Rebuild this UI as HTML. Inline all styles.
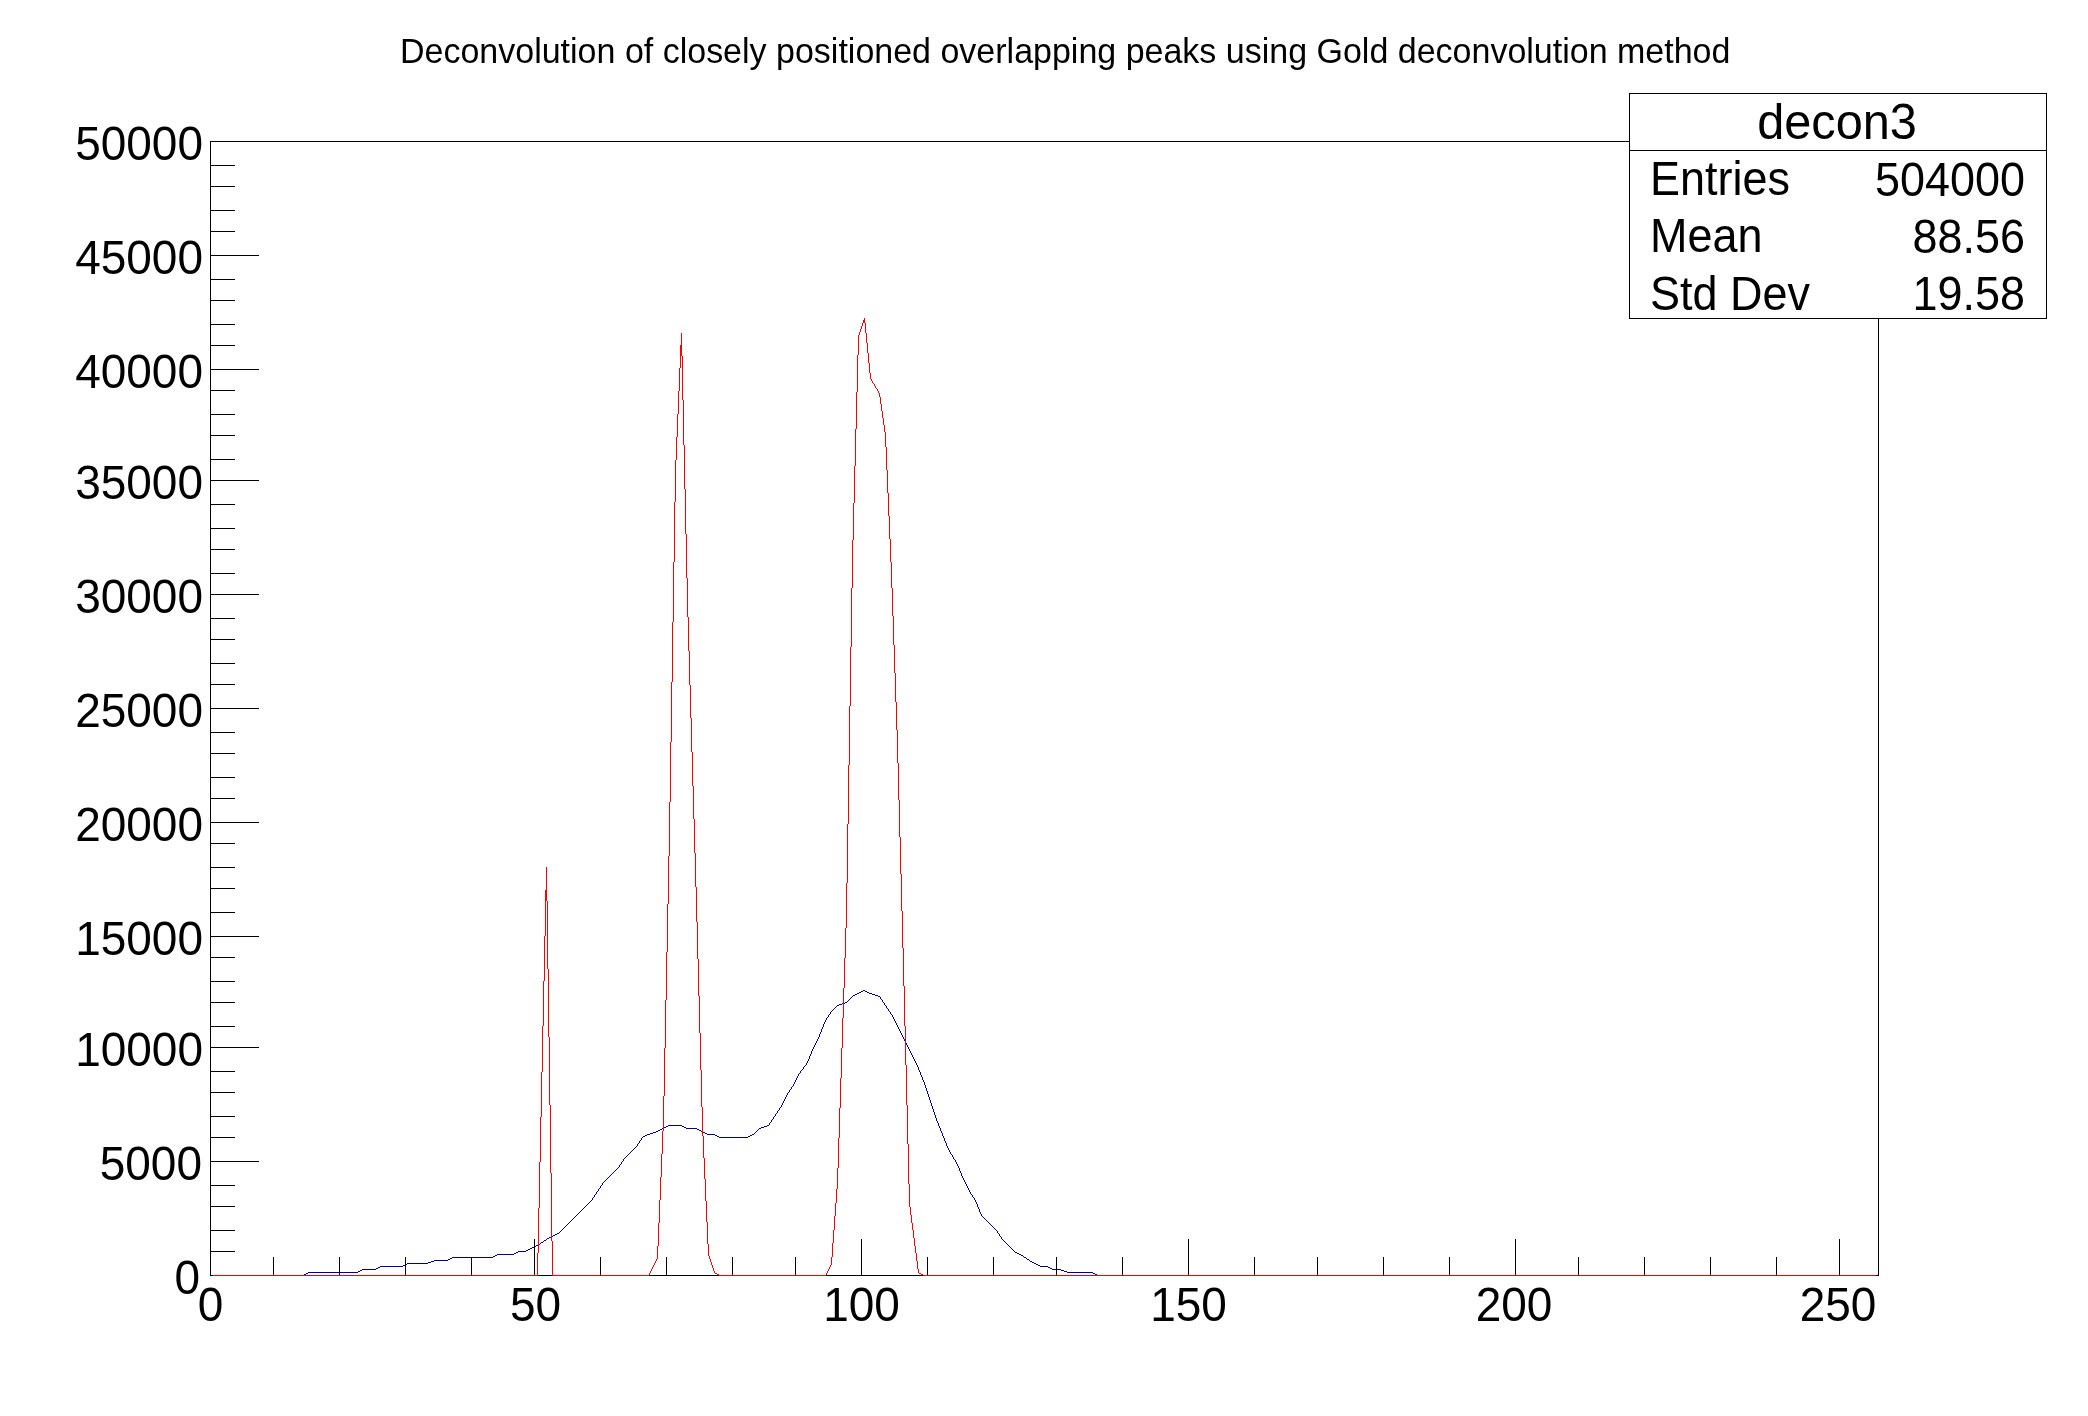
<!DOCTYPE html>
<html><head><meta charset="utf-8"><title>Deconvolution</title>
<style>html,body{margin:0;padding:0;background:#fff;overflow:hidden}svg{display:block}text{font-family:"Liberation Sans",Arial,Helvetica,sans-serif;fill:#000}</style>
</head><body>
<svg width="2088" height="1416" viewBox="0 0 2088 1416">
<rect x="0" y="0" width="2088" height="1416" fill="#fff"/>
<g shape-rendering="crispEdges">
<rect x="210" y="141" width="1669" height="1" fill="#000"/>
<rect x="210" y="1275" width="1669" height="1" fill="#000"/>
<rect x="210" y="141" width="1" height="1135" fill="#000"/>
<rect x="1878" y="141" width="1" height="1135" fill="#000"/>
<path d="M213 1275h91v1h-91zM304 1274h2v1h-2zM306 1273h2v1h-2zM308 1272h50v1h-50zM358 1271h2v1h-2zM360 1270h2v1h-2zM362 1269h14v1h-14zM376 1268h2v1h-2zM378 1267h2v1h-2zM380 1266h23v1h-23zM403 1265h2v1h-2zM405 1264h2v1h-2zM407 1263h21v1h-21zM428 1262h3v1h-3zM431 1261h3v1h-3zM434 1260h14v1h-14zM448 1259h2v1h-2zM450 1258h2v1h-2zM452 1257h41v1h-41zM493 1256h2v1h-2zM495 1255h2v1h-2zM497 1254h17v1h-17zM514 1253h2v1h-2zM516 1252h2v1h-2zM518 1251h8v1h-8zM526 1250h2v1h-2zM528 1249h2v1h-2zM530 1248h2v1h-2zM532 1247h2v1h-2zM534 1246h2v1h-2zM536 1245h2v1h-2zM538 1244h2v1h-2zM540 1243h1v1h-1zM541 1242h2v1h-2zM543 1241h1v1h-1zM544 1240h2v1h-2zM546 1239h1v1h-1zM547 1238h2v1h-2zM549 1237h2v1h-2zM551 1236h2v1h-2zM553 1235h2v1h-2zM555 1234h2v1h-2zM557 1233h2v1h-2zM559 1232h1v1h-1zM560 1231h1v1h-1zM561 1230h1v1h-1zM562 1229h1v1h-1zM563 1228h1v1h-1zM564 1227h1v1h-1zM565 1226h1v1h-1zM566 1225h1v1h-1zM567 1224h1v1h-1zM568 1223h1v1h-1zM569 1222h1v1h-1zM570 1221h1v1h-1zM571 1220h1v1h-1zM572 1219h1v1h-1zM573 1218h1v1h-1zM574 1217h1v1h-1zM575 1216h1v1h-1zM576 1215h1v1h-1zM577 1214h1v1h-1zM578 1213h1v1h-1zM579 1212h1v1h-1zM580 1211h1v1h-1zM581 1210h1v1h-1zM582 1209h1v1h-1zM583 1208h1v1h-1zM584 1207h1v1h-1zM585 1206h1v1h-1zM586 1205h1v1h-1zM587 1204h1v1h-1zM588 1203h1v1h-1zM589 1202h1v1h-1zM590 1201h1v1h-1zM591 1200h1v1h-1zM592 1198h1v2h-1zM593 1197h1v1h-1zM594 1195h1v2h-1zM595 1194h1v1h-1zM596 1192h1v2h-1zM597 1191h1v1h-1zM598 1189h1v2h-1zM599 1188h1v1h-1zM600 1186h1v2h-1zM601 1185h1v1h-1zM602 1183h1v2h-1zM603 1182h1v1h-1zM604 1181h1v1h-1zM605 1180h1v1h-1zM606 1179h1v1h-1zM607 1178h1v1h-1zM608 1177h1v1h-1zM609 1176h1v1h-1zM610 1175h1v1h-1zM611 1174h1v1h-1zM612 1173h1v1h-1zM613 1172h1v1h-1zM614 1171h1v1h-1zM615 1170h1v1h-1zM616 1169h1v1h-1zM617 1168h1v1h-1zM618 1167h1v1h-1zM619 1165h1v2h-1zM620 1164h1v1h-1zM621 1162h1v2h-1zM622 1161h1v1h-1zM623 1159h1v2h-1zM624 1158h1v1h-1zM625 1157h1v1h-1zM626 1156h1v1h-1zM627 1155h1v1h-1zM628 1154h1v1h-1zM629 1153h1v1h-1zM630 1152h1v1h-1zM631 1151h1v1h-1zM632 1150h1v1h-1zM633 1149h1v1h-1zM634 1148h1v1h-1zM635 1147h1v1h-1zM636 1146h1v1h-1zM637 1144h1v2h-1zM638 1143h1v1h-1zM639 1141h1v2h-1zM640 1140h1v1h-1zM641 1138h1v2h-1zM642 1137h1v1h-1zM643 1136h2v1h-2zM645 1135h2v1h-2zM647 1134h3v1h-3zM650 1133h3v1h-3zM653 1132h3v1h-3zM656 1131h2v1h-2zM658 1130h2v1h-2zM660 1129h2v1h-2zM662 1128h2v1h-2zM664 1127h2v1h-2zM666 1126h2v1h-2zM668 1125h14v1h-14zM682 1126h2v1h-2zM684 1127h2v1h-2zM686 1128h11v1h-11zM697 1129h2v1h-2zM699 1130h2v1h-2zM701 1131h2v1h-2zM703 1132h2v1h-2zM705 1133h2v1h-2zM707 1134h8v1h-8zM715 1135h2v1h-2zM717 1136h2v1h-2zM719 1137h29v1h-29zM748 1136h2v1h-2zM750 1135h2v1h-2zM752 1134h2v1h-2zM754 1133h1v1h-1zM755 1132h1v1h-1zM756 1131h1v1h-1zM757 1130h1v1h-1zM758 1129h1v1h-1zM759 1128h2v1h-2zM761 1127h3v1h-3zM764 1126h3v1h-3zM767 1125h2v1h-2zM769 1123h1v2h-1zM770 1122h1v1h-1zM771 1120h1v2h-1zM772 1119h1v1h-1zM773 1117h1v2h-1zM774 1116h1v1h-1zM775 1114h1v2h-1zM776 1113h1v1h-1zM777 1111h1v2h-1zM778 1110h1v1h-1zM779 1108h1v2h-1zM780 1107h1v1h-1zM781 1105h1v2h-1zM782 1103h1v2h-1zM783 1101h1v2h-1zM784 1099h1v2h-1zM785 1097h1v2h-1zM786 1095h1v2h-1zM786 1095h1v1h-1zM787 1093h1v2h-1zM788 1092h1v1h-1zM789 1090h1v2h-1zM790 1089h1v1h-1zM791 1087h1v2h-1zM792 1086h1v1h-1zM793 1084h1v2h-1zM794 1082h1v2h-1zM795 1080h1v2h-1zM796 1078h1v2h-1zM797 1076h1v2h-1zM798 1074h1v2h-1zM798 1074h1v1h-1zM799 1073h1v1h-1zM800 1071h1v2h-1zM801 1070h1v1h-1zM802 1069h1v1h-1zM803 1067h1v2h-1zM804 1066h1v1h-1zM805 1065h1v1h-1zM806 1063h1v2h-1zM807 1062h1v1h-1zM807 1061h1v2h-1zM808 1059h1v2h-1zM809 1056h1v3h-1zM810 1054h1v2h-1zM811 1051h1v3h-1zM812 1049h1v2h-1zM813 1047h1v2h-1zM813 1047h1v1h-1zM814 1045h1v2h-1zM815 1043h1v2h-1zM816 1041h1v2h-1zM817 1039h1v2h-1zM818 1037h1v2h-1zM819 1035h1v2h-1zM819 1034h1v2h-1zM820 1032h1v2h-1zM821 1029h1v3h-1zM822 1027h1v2h-1zM823 1024h1v3h-1zM824 1022h1v2h-1zM825 1020h1v2h-1zM825 1020h1v1h-1zM826 1018h1v2h-1zM827 1017h1v1h-1zM828 1015h1v2h-1zM829 1014h1v1h-1zM830 1012h1v2h-1zM831 1011h1v1h-1zM832 1010h1v1h-1zM833 1009h1v1h-1zM834 1008h1v1h-1zM835 1007h1v1h-1zM836 1006h1v1h-1zM837 1005h2v1h-2zM839 1004h3v1h-3zM842 1003h3v1h-3zM845 1002h2v1h-2zM847 1001h1v1h-1zM848 1000h1v1h-1zM849 999h1v1h-1zM850 998h1v1h-1zM851 997h1v1h-1zM852 996h1v1h-1zM853 995h2v1h-2zM855 994h2v1h-2zM857 993h2v1h-2zM859 992h2v1h-2zM861 991h2v1h-2zM863 990h2v1h-2zM865 991h2v1h-2zM867 992h2v1h-2zM869 993h3v1h-3zM872 994h3v1h-3zM875 995h3v1h-3zM878 996h2v1h-2zM880 997h1v2h-1zM881 999h1v1h-1zM882 1000h1v2h-1zM883 1002h1v1h-1zM884 1003h1v2h-1zM885 1005h1v1h-1zM886 1006h1v2h-1zM887 1008h1v1h-1zM888 1009h1v2h-1zM889 1011h1v1h-1zM890 1012h1v2h-1zM891 1014h1v1h-1zM892 1015h1v2h-1zM893 1017h1v2h-1zM894 1019h1v2h-1zM895 1021h1v2h-1zM896 1023h1v2h-1zM897 1025h1v2h-1zM897 1026h1v1h-1zM898 1027h1v2h-1zM899 1029h1v2h-1zM900 1031h1v2h-1zM901 1033h1v2h-1zM902 1035h1v2h-1zM903 1037h1v2h-1zM903 1038h1v1h-1zM904 1039h1v2h-1zM905 1041h1v2h-1zM906 1043h1v2h-1zM907 1045h1v2h-1zM908 1047h1v2h-1zM909 1049h1v2h-1zM909 1050h1v1h-1zM910 1051h1v2h-1zM911 1053h1v2h-1zM912 1055h1v2h-1zM913 1057h1v2h-1zM914 1059h1v2h-1zM915 1061h1v2h-1zM916 1063h1v2h-1zM917 1065h1v2h-1zM918 1067h1v2h-1zM918 1068h1v2h-1zM919 1070h1v2h-1zM920 1072h1v3h-1zM921 1075h1v2h-1zM922 1077h1v3h-1zM923 1080h1v2h-1zM924 1082h1v2h-1zM924 1083h1v2h-1zM925 1085h1v3h-1zM926 1088h1v3h-1zM927 1091h1v3h-1zM928 1094h1v3h-1zM929 1097h1v3h-1zM930 1100h1v2h-1zM930 1101h1v2h-1zM931 1103h1v3h-1zM932 1106h1v3h-1zM933 1109h1v3h-1zM934 1112h1v3h-1zM935 1115h1v3h-1zM936 1118h1v2h-1zM936 1119h1v2h-1zM937 1121h1v2h-1zM938 1123h1v3h-1zM939 1126h1v2h-1zM940 1128h1v3h-1zM941 1131h1v2h-1zM942 1133h1v2h-1zM942 1134h1v2h-1zM943 1136h1v2h-1zM944 1138h1v3h-1zM945 1141h1v2h-1zM946 1143h1v3h-1zM947 1146h1v2h-1zM948 1148h1v2h-1zM948 1149h1v1h-1zM949 1150h1v2h-1zM950 1152h1v2h-1zM951 1154h1v1h-1zM952 1155h1v2h-1zM953 1157h1v2h-1zM954 1159h1v1h-1zM955 1160h1v2h-1zM956 1162h1v2h-1zM957 1164h1v1h-1zM957 1164h1v2h-1zM958 1166h1v2h-1zM959 1168h1v3h-1zM960 1171h1v2h-1zM961 1173h1v3h-1zM962 1176h1v2h-1zM963 1178h1v2h-1zM963 1179h1v1h-1zM964 1180h1v2h-1zM965 1182h1v2h-1zM966 1184h1v2h-1zM967 1186h1v2h-1zM968 1188h1v2h-1zM969 1190h1v2h-1zM969 1191h1v1h-1zM970 1192h1v2h-1zM971 1194h1v1h-1zM972 1195h1v2h-1zM973 1197h1v1h-1zM974 1198h1v2h-1zM975 1200h1v1h-1zM975 1200h1v2h-1zM976 1202h1v2h-1zM977 1204h1v3h-1zM978 1207h1v2h-1zM979 1209h1v3h-1zM980 1212h1v2h-1zM981 1214h1v2h-1zM981 1215h1v1h-1zM982 1216h1v1h-1zM983 1217h1v1h-1zM984 1218h1v1h-1zM985 1219h1v1h-1zM986 1220h1v1h-1zM987 1221h1v1h-1zM988 1222h1v1h-1zM989 1223h1v1h-1zM990 1224h1v1h-1zM991 1225h1v1h-1zM992 1226h1v1h-1zM993 1227h1v1h-1zM994 1228h1v1h-1zM995 1229h1v1h-1zM996 1230h1v1h-1zM997 1231h1v2h-1zM998 1233h1v1h-1zM999 1234h1v2h-1zM1000 1236h1v1h-1zM1001 1237h1v2h-1zM1002 1239h1v1h-1zM1003 1240h1v1h-1zM1004 1241h1v1h-1zM1005 1242h1v1h-1zM1006 1243h1v1h-1zM1007 1244h1v1h-1zM1008 1245h1v1h-1zM1009 1246h1v1h-1zM1010 1247h1v1h-1zM1011 1248h1v1h-1zM1012 1249h1v1h-1zM1013 1250h1v1h-1zM1014 1251h1v1h-1zM1015 1252h2v1h-2zM1017 1253h2v1h-2zM1019 1254h2v1h-2zM1021 1255h2v1h-2zM1023 1256h1v1h-1zM1024 1257h2v1h-2zM1026 1258h1v1h-1zM1027 1259h2v1h-2zM1029 1260h1v1h-1zM1030 1261h2v1h-2zM1032 1262h2v1h-2zM1034 1263h2v1h-2zM1036 1264h2v1h-2zM1038 1265h2v1h-2zM1040 1266h8v1h-8zM1048 1267h2v1h-2zM1050 1268h2v1h-2zM1052 1269h9v1h-9zM1061 1270h3v1h-3zM1064 1271h3v1h-3zM1067 1272h26v1h-26zM1093 1273h2v1h-2zM1095 1274h2v1h-2zM1097 1275h779v1h-779z" fill="#000099"/>
<rect x="210" y="1239" width="1" height="37" fill="#000"/>
<rect x="273" y="1257" width="1" height="19" fill="#000"/>
<rect x="339" y="1257" width="1" height="19" fill="#000"/>
<rect x="405" y="1257" width="1" height="19" fill="#000"/>
<rect x="471" y="1257" width="1" height="19" fill="#000"/>
<rect x="534" y="1239" width="1" height="37" fill="#000"/>
<rect x="600" y="1257" width="1" height="19" fill="#000"/>
<rect x="666" y="1257" width="1" height="19" fill="#000"/>
<rect x="732" y="1257" width="1" height="19" fill="#000"/>
<rect x="795" y="1257" width="1" height="19" fill="#000"/>
<rect x="861" y="1239" width="1" height="37" fill="#000"/>
<rect x="927" y="1257" width="1" height="19" fill="#000"/>
<rect x="993" y="1257" width="1" height="19" fill="#000"/>
<rect x="1056" y="1257" width="1" height="19" fill="#000"/>
<rect x="1122" y="1257" width="1" height="19" fill="#000"/>
<rect x="1188" y="1239" width="1" height="37" fill="#000"/>
<rect x="1254" y="1257" width="1" height="19" fill="#000"/>
<rect x="1317" y="1257" width="1" height="19" fill="#000"/>
<rect x="1383" y="1257" width="1" height="19" fill="#000"/>
<rect x="1449" y="1257" width="1" height="19" fill="#000"/>
<rect x="1515" y="1239" width="1" height="37" fill="#000"/>
<rect x="1578" y="1257" width="1" height="19" fill="#000"/>
<rect x="1644" y="1257" width="1" height="19" fill="#000"/>
<rect x="1710" y="1257" width="1" height="19" fill="#000"/>
<rect x="1776" y="1257" width="1" height="19" fill="#000"/>
<rect x="1839" y="1239" width="1" height="37" fill="#000"/>
<rect x="210" y="1275" width="49" height="1" fill="#000"/>
<rect x="210" y="1251" width="25" height="1" fill="#000"/>
<rect x="210" y="1230" width="25" height="1" fill="#000"/>
<rect x="210" y="1206" width="25" height="1" fill="#000"/>
<rect x="210" y="1185" width="25" height="1" fill="#000"/>
<rect x="210" y="1161" width="49" height="1" fill="#000"/>
<rect x="210" y="1137" width="25" height="1" fill="#000"/>
<rect x="210" y="1116" width="25" height="1" fill="#000"/>
<rect x="210" y="1092" width="25" height="1" fill="#000"/>
<rect x="210" y="1071" width="25" height="1" fill="#000"/>
<rect x="210" y="1047" width="49" height="1" fill="#000"/>
<rect x="210" y="1026" width="25" height="1" fill="#000"/>
<rect x="210" y="1002" width="25" height="1" fill="#000"/>
<rect x="210" y="981" width="25" height="1" fill="#000"/>
<rect x="210" y="957" width="25" height="1" fill="#000"/>
<rect x="210" y="936" width="49" height="1" fill="#000"/>
<rect x="210" y="912" width="25" height="1" fill="#000"/>
<rect x="210" y="888" width="25" height="1" fill="#000"/>
<rect x="210" y="867" width="25" height="1" fill="#000"/>
<rect x="210" y="843" width="25" height="1" fill="#000"/>
<rect x="210" y="822" width="49" height="1" fill="#000"/>
<rect x="210" y="798" width="25" height="1" fill="#000"/>
<rect x="210" y="777" width="25" height="1" fill="#000"/>
<rect x="210" y="753" width="25" height="1" fill="#000"/>
<rect x="210" y="732" width="25" height="1" fill="#000"/>
<rect x="210" y="708" width="49" height="1" fill="#000"/>
<rect x="210" y="684" width="25" height="1" fill="#000"/>
<rect x="210" y="663" width="25" height="1" fill="#000"/>
<rect x="210" y="639" width="25" height="1" fill="#000"/>
<rect x="210" y="618" width="25" height="1" fill="#000"/>
<rect x="210" y="594" width="49" height="1" fill="#000"/>
<rect x="210" y="573" width="25" height="1" fill="#000"/>
<rect x="210" y="549" width="25" height="1" fill="#000"/>
<rect x="210" y="528" width="25" height="1" fill="#000"/>
<rect x="210" y="504" width="25" height="1" fill="#000"/>
<rect x="210" y="480" width="49" height="1" fill="#000"/>
<rect x="210" y="459" width="25" height="1" fill="#000"/>
<rect x="210" y="435" width="25" height="1" fill="#000"/>
<rect x="210" y="414" width="25" height="1" fill="#000"/>
<rect x="210" y="390" width="25" height="1" fill="#000"/>
<rect x="210" y="369" width="49" height="1" fill="#000"/>
<rect x="210" y="345" width="25" height="1" fill="#000"/>
<rect x="210" y="324" width="25" height="1" fill="#000"/>
<rect x="210" y="300" width="25" height="1" fill="#000"/>
<rect x="210" y="279" width="25" height="1" fill="#000"/>
<rect x="210" y="255" width="49" height="1" fill="#000"/>
<rect x="210" y="231" width="25" height="1" fill="#000"/>
<rect x="210" y="210" width="25" height="1" fill="#000"/>
<rect x="210" y="186" width="25" height="1" fill="#000"/>
<rect x="210" y="165" width="25" height="1" fill="#000"/>
<rect x="210" y="141" width="49" height="1" fill="#000"/>
<path d="M213 1275h325v1h-325zM537 1253h1v23h-1zM538 1208h1v45h-1zM539 1162h1v46h-1zM540 1117h1v45h-1zM541 1072h1v45h-1zM542 1026h1v46h-1zM543 981h1v45h-1zM544 936h1v45h-1zM545 890h1v46h-1zM546 867h1v23h-1zM546 867h1v34h-1zM547 901h1v68h-1zM548 969h1v68h-1zM549 1037h1v68h-1zM550 1105h1v68h-1zM551 1173h1v68h-1zM552 1241h1v35h-1zM552 1275h97v1h-97zM649 1273h1v2h-1zM650 1271h1v2h-1zM651 1269h1v2h-1zM652 1267h1v2h-1zM653 1265h1v2h-1zM654 1263h1v2h-1zM655 1261h1v2h-1zM656 1259h1v2h-1zM657 1257h1v2h-1zM657 1246h1v12h-1zM658 1223h1v23h-1zM659 1200h1v23h-1zM660 1177h1v23h-1zM661 1154h1v23h-1zM662 1131h1v23h-1zM663 1119h1v12h-1zM663 1096h1v24h-1zM664 1048h1v48h-1zM665 1000h1v48h-1zM666 952h1v48h-1zM667 904h1v48h-1zM668 856h1v48h-1zM669 831h1v25h-1zM669 802h1v30h-1zM670 742h1v60h-1zM671 682h1v60h-1zM672 622h1v60h-1zM673 562h1v60h-1zM674 502h1v60h-1zM675 471h1v31h-1zM675 460h1v12h-1zM676 437h1v23h-1zM677 414h1v23h-1zM678 391h1v23h-1zM679 368h1v23h-1zM680 345h1v23h-1zM681 333h1v12h-1zM681 333h1v23h-1zM682 356h1v44h-1zM683 400h1v45h-1zM684 445h1v44h-1zM685 489h1v45h-1zM686 534h1v44h-1zM687 578h1v23h-1zM687 600h1v17h-1zM688 617h1v34h-1zM689 651h1v34h-1zM690 685h1v33h-1zM691 718h1v34h-1zM692 752h1v34h-1zM693 786h1v33h-1zM694 819h1v34h-1zM695 853h1v34h-1zM696 887h1v17h-1zM696 903h1v19h-1zM697 922h1v37h-1zM698 959h1v37h-1zM699 996h1v37h-1zM700 1033h1v37h-1zM701 1070h1v37h-1zM702 1107h1v19h-1zM702 1125h1v11h-1zM703 1136h1v22h-1zM704 1158h1v21h-1zM705 1179h1v22h-1zM706 1201h1v21h-1zM707 1222h1v22h-1zM708 1244h1v11h-1zM708 1254h1v2h-1zM709 1256h1v3h-1zM710 1259h1v3h-1zM711 1262h1v3h-1zM712 1265h1v3h-1zM713 1268h1v3h-1zM714 1271h1v2h-1zM714 1272h1v1h-1zM715 1273h2v1h-2zM717 1274h2v1h-2zM719 1275h107v1h-107zM826 1273h1v2h-1zM827 1271h1v2h-1zM828 1269h1v2h-1zM829 1267h1v2h-1zM830 1265h1v2h-1zM831 1263h1v2h-1zM831 1257h1v7h-1zM832 1243h1v14h-1zM833 1230h1v13h-1zM834 1216h1v14h-1zM835 1203h1v13h-1zM836 1189h1v14h-1zM837 1182h1v7h-1zM837 1168h1v15h-1zM838 1138h1v30h-1zM839 1108h1v30h-1zM840 1078h1v30h-1zM841 1048h1v30h-1zM842 1018h1v30h-1zM843 988h1v30h-1zM844 958h1v30h-1zM845 928h1v30h-1zM846 912h1v16h-1zM846 883h1v30h-1zM847 824h1v59h-1zM848 765h1v59h-1zM849 706h1v59h-1zM850 647h1v59h-1zM851 588h1v59h-1zM852 558h1v30h-1zM852 540h1v19h-1zM853 503h1v37h-1zM854 466h1v37h-1zM855 429h1v37h-1zM856 392h1v37h-1zM857 355h1v37h-1zM858 336h1v19h-1zM858 335h1v2h-1zM859 332h1v3h-1zM860 329h1v3h-1zM861 326h1v3h-1zM862 323h1v3h-1zM863 320h1v3h-1zM864 318h1v2h-1zM864 318h1v5h-1zM865 323h1v10h-1zM866 333h1v10h-1zM867 343h1v10h-1zM868 353h1v10h-1zM869 363h1v10h-1zM870 373h1v6h-1zM870 378h1v1h-1zM871 379h1v2h-1zM872 381h1v2h-1zM873 383h1v1h-1zM874 384h1v2h-1zM875 386h1v2h-1zM876 388h1v1h-1zM877 389h1v2h-1zM878 391h1v2h-1zM879 393h1v1h-1zM879 393h1v4h-1zM880 397h1v7h-1zM881 404h1v7h-1zM882 411h1v7h-1zM883 418h1v7h-1zM884 425h1v7h-1zM885 432h1v4h-1zM885 435h1v12h-1zM886 447h1v23h-1zM887 470h1v23h-1zM888 493h1v23h-1zM889 516h1v23h-1zM890 539h1v23h-1zM891 562h1v12h-1zM891 573h1v15h-1zM892 588h1v28h-1zM893 616h1v29h-1zM894 645h1v28h-1zM895 673h1v29h-1zM896 702h1v28h-1zM897 730h1v15h-1zM897 744h1v19h-1zM898 763h1v37h-1zM899 800h1v37h-1zM900 837h1v37h-1zM901 874h1v37h-1zM902 911h1v37h-1zM903 948h1v19h-1zM903 966h1v20h-1zM904 986h1v40h-1zM905 1026h1v39h-1zM906 1065h1v40h-1zM907 1105h1v39h-1zM908 1144h1v40h-1zM909 1184h1v20h-1zM909 1203h1v4h-1zM910 1207h1v8h-1zM911 1215h1v8h-1zM912 1223h1v7h-1zM913 1230h1v8h-1zM914 1238h1v8h-1zM915 1246h1v7h-1zM916 1253h1v8h-1zM917 1261h1v8h-1zM918 1269h1v4h-1zM918 1272h1v1h-1zM919 1273h2v1h-2zM921 1274h2v1h-2zM923 1275h953v1h-953z" fill="#ff0000"/>
<rect x="1629.5" y="93.5" width="417" height="225" fill="#fff" stroke="#000" stroke-width="1"/>
<rect x="1629" y="150" width="418" height="1" fill="#000"/>
</g>
<g style="filter:grayscale(1)">
<text transform="translate(400 63) scale(1 1.035)" font-size="34">Deconvolution of closely positioned overlapping peaks using Gold deconvolution method</text>
<text transform="translate(200 1294) scale(1 1.055)" font-size="46" text-anchor="end">0</text>
<text transform="translate(202 1180) scale(1 1.055)" font-size="46" text-anchor="end">5000</text>
<text transform="translate(203 1066) scale(1 1.055)" font-size="46" text-anchor="end">10000</text>
<text transform="translate(203 955) scale(1 1.055)" font-size="46" text-anchor="end">15000</text>
<text transform="translate(203 841) scale(1 1.055)" font-size="46" text-anchor="end">20000</text>
<text transform="translate(203 727) scale(1 1.055)" font-size="46" text-anchor="end">25000</text>
<text transform="translate(203 613) scale(1 1.055)" font-size="46" text-anchor="end">30000</text>
<text transform="translate(203 499) scale(1 1.055)" font-size="46" text-anchor="end">35000</text>
<text transform="translate(203 388) scale(1 1.055)" font-size="46" text-anchor="end">40000</text>
<text transform="translate(203 274) scale(1 1.055)" font-size="46" text-anchor="end">45000</text>
<text transform="translate(203 160) scale(1 1.055)" font-size="46" text-anchor="end">50000</text>
<text transform="translate(210.5 1321) scale(1 1.055)" font-size="46" text-anchor="middle">0</text>
<text transform="translate(535.5 1321) scale(1 1.055)" font-size="46" text-anchor="middle">50</text>
<text transform="translate(861.5 1321) scale(1 1.055)" font-size="46" text-anchor="middle">100</text>
<text transform="translate(1188.5 1321) scale(1 1.055)" font-size="46" text-anchor="middle">150</text>
<text transform="translate(1514.0 1321) scale(1 1.055)" font-size="46" text-anchor="middle">200</text>
<text transform="translate(1838.0 1321) scale(1 1.055)" font-size="46" text-anchor="middle">250</text>
<text transform="translate(1837 139) scale(1 1.04)" font-size="48.7" text-anchor="middle">decon3</text>
<text transform="translate(1650 195) scale(1 1.065)" font-size="45">Entries</text>
<text transform="translate(2025 196) scale(1 1.065)" font-size="45" text-anchor="end">504000</text>
<text transform="translate(1650 252) scale(1 1.065)" font-size="45">Mean</text>
<text transform="translate(2025 253) scale(1 1.065)" font-size="45" text-anchor="end">88.56</text>
<text transform="translate(1650 310) scale(1 1.065)" font-size="45">Std Dev</text>
<text transform="translate(2025 310) scale(1 1.065)" font-size="45" text-anchor="end">19.58</text>
</g>
</svg>
</body></html>
